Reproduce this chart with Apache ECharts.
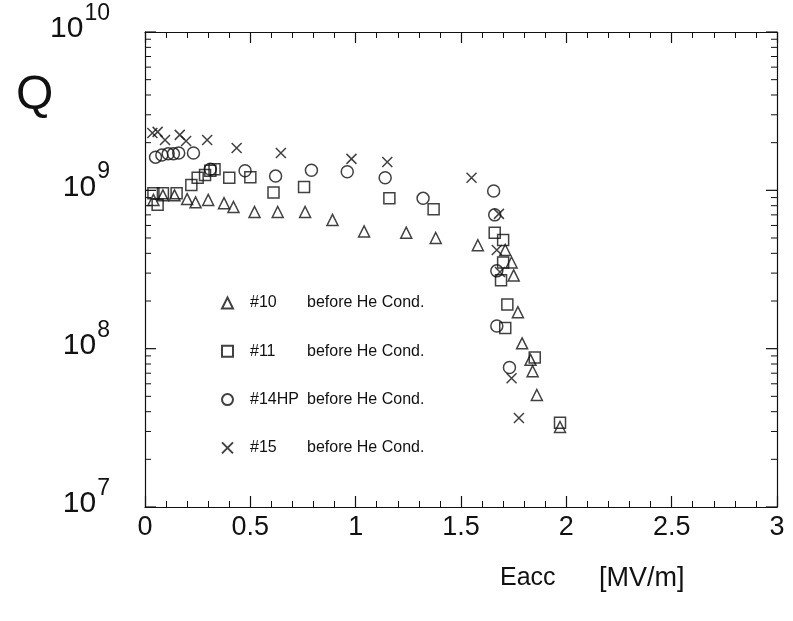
<!DOCTYPE html>
<html>
<head>
<meta charset="utf-8">
<script src="https://cdn.jsdelivr.net/npm/echarts@6/dist/echarts.min.js"></script>
<style>
  html, body { margin: 0; padding: 0; background: #fff; }
  #q_eacc { width: 793px; height: 621px; }
</style>
</head>
<body>
<div id="q_eacc"></div>
<script>
  // #10 before He Cond.  (triangles)
  const e10 = [0.04, 0.085, 0.14, 0.2, 0.24, 0.3, 0.375, 0.42, 0.52, 0.63, 0.76, 0.89, 1.04, 1.24, 1.38, 1.58, 1.71, 1.74, 1.75, 1.77, 1.79, 1.83, 1.84, 1.86, 1.97];
  const q10 = [8.7e8, 9.3e8, 9.3e8, 8.8e8, 8.4e8, 8.7e8, 8.3e8, 7.85e8, 7.3e8, 7.3e8, 7.3e8, 6.5e8, 5.5e8, 5.4e8, 5.0e8, 4.5e8, 4.2e8, 3.5e8, 2.9e8, 1.7e8, 1.08e8, 8.5e7, 7.2e7, 5.1e7, 3.2e7];
  // #11 before He Cond.  (squares)
  const e11 = [0.04, 0.06, 0.085, 0.15, 0.22, 0.25, 0.285, 0.31, 0.33, 0.4, 0.5, 0.61, 0.755, 1.16, 1.37, 1.66, 1.7, 1.7, 1.69, 1.72, 1.71, 1.85, 1.97];
  const q11 = [9.6e8, 8.1e8, 9.6e8, 9.6e8, 1.08e9, 1.2e9, 1.25e9, 1.33e9, 1.36e9, 1.2e9, 1.21e9, 9.7e8, 1.05e9, 8.9e8, 7.6e8, 5.4e8, 4.85e8, 3.5e8, 2.7e8, 1.9e8, 1.35e8, 8.8e7, 3.4e7];
  // #14HP before He Cond.  (circles)
  const e14 = [0.05, 0.08, 0.11, 0.135, 0.16, 0.23, 0.31, 0.475, 0.62, 0.79, 0.96, 1.14, 1.32, 1.655, 1.66, 1.67, 1.67, 1.73];
  const q14 = [1.62e9, 1.67e9, 1.7e9, 1.7e9, 1.72e9, 1.72e9, 1.36e9, 1.33e9, 1.23e9, 1.34e9, 1.31e9, 1.2e9, 8.9e8, 9.9e8, 7.0e8, 3.1e8, 1.39e8, 7.6e7];
  // #15 before He Cond.  (crosses)
  const e15 = [0.035, 0.06, 0.095, 0.165, 0.195, 0.295, 0.435, 0.645, 0.98, 1.15, 1.55, 1.68, 1.67, 1.685, 1.74, 1.775];
  const q15 = [2.3e9, 2.34e9, 2.08e9, 2.24e9, 2.05e9, 2.08e9, 1.85e9, 1.72e9, 1.58e9, 1.51e9, 1.2e9, 7.1e8, 4.2e8, 3.05e8, 6.5e7, 3.65e7];

  // log axis ticks: decades and 2..9 inside each decade
  const majorQ = [1e7, 1e8, 1e9, 1e10];
  const decades = [1e7, 1e8, 1e9];
  const mults = [2, 3, 4, 5, 6, 7, 8, 9];

  const ink = '#111';
  const font = 'Liberation Sans, Arial, Helvetica, sans-serif';

  let chart = echarts.init(document.getElementById('q_eacc'), null, {renderer: 'canvas'});

  const pairs = (xs, ys) => xs.map((x, i) => [x, ys[i]]);
  const yTicks = majorQ.map(q => [0, q, 11]);
  decades.forEach(d => mults.forEach(m => yTicks.push([0, d * m, 6])));
  const expo = v => String(Math.round(Math.log10(v)));

  const hollow = {color: 'rgba(0,0,0,0)', borderColor: ink, borderWidth: 1.5};

  let xAxisBase = {
    type: 'value',
    min: 0,
    max: 3,
    interval: 0.5,
    splitLine: {show: false},
    axisLine: {lineStyle: {color: ink, width: 1.2}},
    axisTick: {inside: true, length: 11, lineStyle: {color: ink, width: 1.2}},
    minorTick: {show: true, splitNumber: 5, length: 6, lineStyle: {color: ink, width: 1}}
  };
  let yAxisBase = {
    type: 'log',
    logBase: 10,
    min: 1e7,
    max: 1e10,
    splitLine: {show: false},
    axisLine: {onZero: false, lineStyle: {color: ink, width: 1.2}},
    axisTick: {show: false},
    minorTick: {show: false}
  };

  let option = {
    backgroundColor: '#fff',
    animation: false,
    grid: {left: 145, right: 16, top: 32, bottom: 114},
    legend: {
      orient: 'vertical',
      left: 216,
      top: 290,
      itemWidth: 11,
      itemHeight: 11,
      itemGap: 32.3,
      data: ['#10', '#11', '#14HP', '#15'],
      formatter: name => `{a|${name}}{b|before He Cond.}`,
      textStyle: {
        padding: [0, 0, 0, 12],
        rich: {
          a: {fontFamily: font, fontSize: 16, color: ink, width: 57, lineHeight: 16},
          b: {fontFamily: font, fontSize: 16, color: ink, lineHeight: 16}
        }
      }
    },
    xAxis: [
      Object.assign({}, xAxisBase, {
        position: 'bottom',
        axisLabel: {
          margin: 7,
          color: ink,
          fontFamily: font,
          fontSize: 27,
          formatter: v => String(v)
        }
      }),
      Object.assign({}, xAxisBase, {position: 'top', axisLabel: {show: false}})
    ],
    yAxis: [
      // "10" part of the decade labels (exponent kept as a blank spacer)
      Object.assign({}, yAxisBase, {
        position: 'left',
        axisLabel: {
          margin: 35,
          padding: [0, 0, 6, 0],
          formatter: v => `{b|10}{h|${expo(v)}}`,
          rich: {
            b: {fontFamily: font, fontSize: 30, color: ink, lineHeight: 32},
            h: {fontFamily: font, fontSize: 23, color: 'rgba(0,0,0,0)', lineHeight: 32, padding: [0, 0, 0, 1]}
          }
        }
      }),
      Object.assign({}, yAxisBase, {position: 'right', axisLabel: {show: false}}),
      // exponent part, raised above the tick
      Object.assign({}, yAxisBase, {
        position: 'left',
        axisLine: {show: false},
        axisLabel: {
          margin: 35,
          verticalAlign: 'bottom',
          lineHeight: 23,
          padding: [0, 0, 7, 0],
          color: ink,
          fontFamily: font,
          fontSize: 23,
          formatter: expo
        }
      })
    ],
    graphic: [
      {type: 'text', left: 16, top: 72, style: {text: 'Q', font: '48px ' + font, fill: ink}},
      {type: 'text', left: 500, top: 566, style: {text: 'Eacc', font: '25px ' + font, fill: ink}},
      {type: 'text', left: 599, top: 565, style: {text: '[MV/m]', font: '27px ' + font, fill: ink}}
    ],
    series: [
      {name: '#10', type: 'scatter', symbol: 'triangle', symbolSize: 11, itemStyle: hollow, data: pairs(e10, q10)},
      {name: '#11', type: 'scatter', symbol: 'rect', symbolSize: 11, itemStyle: hollow, data: pairs(e11, q11)},
      {name: '#14HP', type: 'scatter', symbol: 'circle', symbolSize: 12, itemStyle: hollow, data: pairs(e14, q14)},
      {name: '#15', type: 'scatter', symbol: 'path://M0,0L10,10M10,0L0,10', symbolSize: 10, itemStyle: hollow, data: pairs(e15, q15)},
      {
        // ticks of the log axis on the left and right frame
        type: 'custom',
        silent: true,
        clip: false,
        data: yTicks,
        renderItem: function (params, api) {
          let y = api.coord([0, api.value(1)])[1];
          let len = api.value(2);
          let cs = params.coordSys;
          let st = {stroke: ink, lineWidth: len > 8 ? 1.2 : 1};
          return {
            type: 'group',
            children: [
              {type: 'line', shape: {x1: cs.x, y1: y, x2: cs.x + len, y2: y}, style: st},
              {type: 'line', shape: {x1: cs.x + cs.width - len, y1: y, x2: cs.x + cs.width, y2: y}, style: st}
            ]
          };
        }
      }
    ]
  };
  chart.setOption(option);
</script>
</body>
</html>
